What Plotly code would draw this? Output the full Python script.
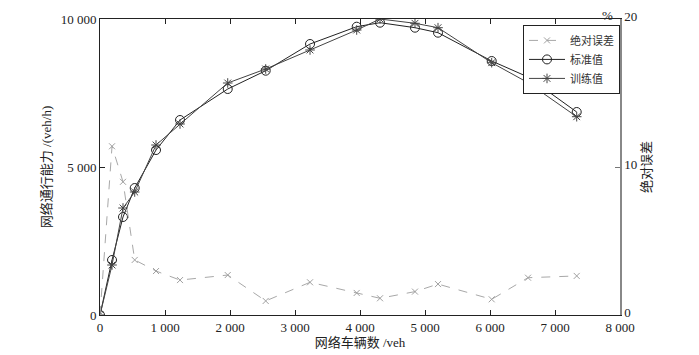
import plotly.graph_objects as go

vehicles = [0, 185, 354, 534, 862, 1231, 1965, 2549, 3231, 3949, 4308, 4846, 5200, 6026, 6585, 7334]
standard = [0, 1858, 3311, 4290, 5574, 6588, 7635, 8253, 9155, 9740, 9875, 9706, 9537, 8581, 8041, 6858]
trained = [0, 1689, 3615, 4155, 5743, 6453, 7838, 8311, 8953, 9628, 10000, 9855, 9706, 8524, 7848, 6699]
abs_error = [0, 11.4, 9.0, 3.72, 2.97, 2.36, 2.70, 0.95, 2.21, 1.49, 1.13, 1.58, 2.09, 1.06, 2.52, 2.64]

x_ticks = [0, 1000, 2000, 3000, 4000, 5000, 6000, 7000, 8000]
x_tick_text = ["0", "1 000", "2 000", "3 000", "4 000", "5 000", "6 000", "7 000", "8 000"]
y_ticks = [0, 5000, 10000]
y_tick_text = ["0", "5 000", "10 000"]
y2_ticks = [0, 10, 20]
y2_tick_text = ["0", "10", "20"]

FONT = "Liberation Serif, Noto Sans CJK SC"
NUMFONT = dict(family="Liberation Serif", size=13, color="#222222")

fig = go.Figure()
fig.add_trace(go.Scatter(
    x=vehicles, y=abs_error, name="绝对误差", yaxis="y2", mode="lines+markers",
    line=dict(color="#a8a8a8", width=1, dash="dash"),
    marker=dict(symbol="x-thin-open", size=6, line=dict(color="#a0a0a0", width=1), color="#a0a0a0"),
))
fig.add_trace(go.Scatter(
    x=vehicles, y=standard, name="标准值", mode="lines+markers",
    line=dict(color="#222222", width=1),
    marker=dict(symbol="circle-open", size=9, color="#222222", line=dict(width=1)),
))
fig.add_trace(go.Scatter(
    x=vehicles, y=trained, name="训练值", mode="lines+markers",
    line=dict(color="#444444", width=1),
    marker=dict(symbol="asterisk-open", size=8, color="#444444", line=dict(width=1)),
))

fig.update_layout(
    width=691, height=347,
    margin=dict(l=92, r=79, t=11, b=40, autoexpand=False),
    paper_bgcolor="white", plot_bgcolor="white",
    font=dict(family=FONT, size=13, color="#222222"),
    showlegend=True,
    legend=dict(
        x=1, y=0.98, xanchor="right", yanchor="top",
        bordercolor="#222222", borderwidth=1, bgcolor="white",
        font=dict(size=11, color="#333333"), tracegroupgap=0,
        itemwidth=36,
    ),
    xaxis=dict(
        range=[0, 8000], tickvals=x_ticks, ticktext=x_tick_text, tickfont=NUMFONT,
        ticks="inside", ticklen=5, tickcolor="#222222",
        showline=True, linecolor="#222222", linewidth=1, mirror="ticks",
        showgrid=False, zeroline=False, automargin=False,
        title=dict(text="网络车辆数 /veh", standoff=0, font=dict(size=13)),
    ),
    yaxis=dict(
        range=[0, 10000], tickvals=y_ticks, ticktext=y_tick_text, tickfont=NUMFONT,
        ticks="inside", ticklen=5, tickcolor="#222222",
        showline=True, linecolor="#222222", linewidth=1,
        showgrid=False, zeroline=False, automargin=False,
        title=dict(text="网络通行能力 /(veh/h)", standoff=6, font=dict(size=13)),
    ),
    yaxis2=dict(
        range=[0, 20], tickvals=y2_ticks, ticktext=y2_tick_text, tickfont=NUMFONT,
        overlaying="y", side="right",
        ticks="inside", ticklen=5, tickcolor="#777777",
        showline=True, linecolor="#888888", linewidth=1.5,
        showgrid=False, zeroline=False, automargin=False, ticklabelshift=-3,
        title=dict(text="绝对误差", standoff=6, font=dict(size=13)),
    ),
    annotations=[dict(
        text="%", xref="paper", yref="paper", x=1, y=1, xanchor="right", yanchor="top",
        xshift=-6, yshift=12, borderpad=0, showarrow=False,
        font=dict(family="Liberation Serif", size=13),
    )],
)

fig.write_html("out.html")
